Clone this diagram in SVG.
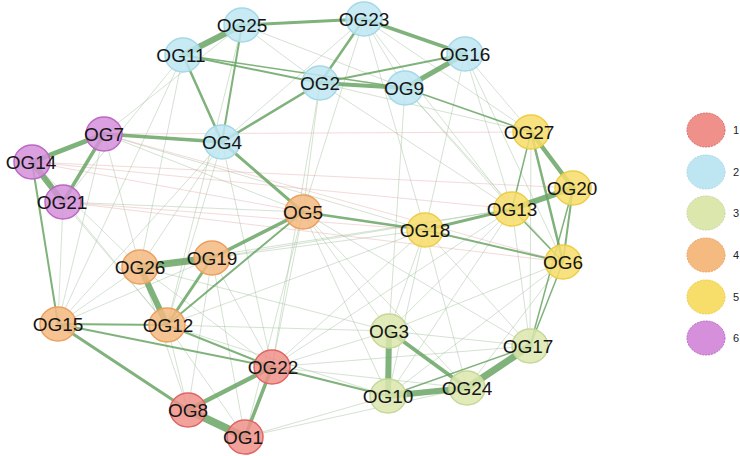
<svg xmlns="http://www.w3.org/2000/svg" width="740" height="456" viewBox="0 0 740 456">
<style>
.f{stroke:#9fbf9b;stroke-width:0.8;opacity:0.55}
.p{stroke:#e4a4a4;stroke-width:0.8;opacity:0.5}
.e{stroke:#6aa565;opacity:0.85;stroke-linecap:round}
.n ellipse{stroke-width:1.5;fill-opacity:0.85}
.g1 ellipse{fill:#f0908a;stroke:#de6666}
.g2 ellipse{fill:#bde6f2;stroke:#a6d8e8}
.g3 ellipse{fill:#dce7ae;stroke:#c6d898}
.g4 ellipse{fill:#f4ba80;stroke:#eba060}
.g5 ellipse{fill:#f7dd6a;stroke:#eecd48}
.g6 ellipse{fill:#d58fdb;stroke:#bb68c4}
.n text{font-family:"Liberation Sans",Arial,sans-serif;font-size:19px;fill:#151515;text-anchor:middle}
.lg ellipse{stroke-width:1;stroke-dasharray:2 1}
.lg text{font-family:"Liberation Sans",Arial,sans-serif;font-size:11px;fill:#222}
</style>
<rect width="740" height="456" fill="#ffffff"/>
<g id="connectors">
<g id="faint">
<line class="f" x1="183" y1="55" x2="63" y2="202"/>
<line class="f" x1="183" y1="55" x2="58" y2="324"/>
<line class="f" x1="183" y1="55" x2="140" y2="267"/>
<line class="f" x1="242" y1="25" x2="167" y2="325"/>
<line class="f" x1="242" y1="25" x2="104" y2="134"/>
<line class="f" x1="242" y1="25" x2="405" y2="88"/>
<line class="f" x1="242" y1="25" x2="320" y2="83"/>
<line class="f" x1="364" y1="19" x2="405" y2="88"/>
<line class="f" x1="364" y1="19" x2="531" y2="132"/>
<line class="f" x1="364" y1="19" x2="512" y2="209"/>
<line class="f" x1="364" y1="19" x2="303" y2="212"/>
<line class="f" x1="364" y1="19" x2="425" y2="230"/>
<line class="f" x1="364" y1="19" x2="222" y2="142"/>
<line class="f" x1="320" y1="83" x2="303" y2="212"/>
<line class="f" x1="320" y1="83" x2="272" y2="367"/>
<line class="f" x1="320" y1="83" x2="531" y2="132"/>
<line class="f" x1="320" y1="83" x2="512" y2="209"/>
<line class="f" x1="405" y1="88" x2="512" y2="209"/>
<line class="f" x1="405" y1="88" x2="563" y2="262"/>
<line class="f" x1="405" y1="88" x2="389" y2="331"/>
<line class="f" x1="465" y1="54" x2="531" y2="132"/>
<line class="f" x1="465" y1="54" x2="512" y2="209"/>
<line class="f" x1="465" y1="54" x2="563" y2="262"/>
<line class="f" x1="465" y1="54" x2="425" y2="230"/>
<line class="f" x1="222" y1="142" x2="167" y2="325"/>
<line class="f" x1="222" y1="142" x2="58" y2="324"/>
<line class="f" x1="222" y1="142" x2="140" y2="267"/>
<line class="f" x1="222" y1="142" x2="272" y2="367"/>
<line class="f" x1="104" y1="134" x2="140" y2="267"/>
<line class="f" x1="104" y1="134" x2="58" y2="324"/>
<line class="f" x1="104" y1="134" x2="303" y2="212"/>
<line class="f" x1="104" y1="134" x2="425" y2="230"/>
<line class="f" x1="32" y1="162" x2="140" y2="267"/>
<line class="f" x1="32" y1="162" x2="167" y2="325"/>
<line class="f" x1="63" y1="202" x2="58" y2="324"/>
<line class="f" x1="63" y1="202" x2="167" y2="325"/>
<line class="f" x1="63" y1="202" x2="303" y2="212"/>
<line class="f" x1="303" y1="212" x2="272" y2="367"/>
<line class="f" x1="303" y1="212" x2="389" y2="331"/>
<line class="f" x1="303" y1="212" x2="467" y2="388"/>
<line class="f" x1="303" y1="212" x2="388" y2="396"/>
<line class="f" x1="303" y1="212" x2="245" y2="437"/>
<line class="f" x1="303" y1="212" x2="530" y2="346"/>
<line class="f" x1="425" y1="230" x2="467" y2="388"/>
<line class="f" x1="425" y1="230" x2="388" y2="396"/>
<line class="f" x1="425" y1="230" x2="272" y2="367"/>
<line class="f" x1="425" y1="230" x2="389" y2="331"/>
<line class="f" x1="425" y1="230" x2="530" y2="346"/>
<line class="f" x1="512" y1="209" x2="530" y2="346"/>
<line class="f" x1="512" y1="209" x2="389" y2="331"/>
<line class="f" x1="512" y1="209" x2="388" y2="396"/>
<line class="f" x1="512" y1="209" x2="272" y2="367"/>
<line class="f" x1="531" y1="132" x2="530" y2="346"/>
<line class="f" x1="563" y1="262" x2="467" y2="388"/>
<line class="f" x1="563" y1="262" x2="389" y2="331"/>
<line class="f" x1="563" y1="262" x2="388" y2="396"/>
<line class="f" x1="530" y1="346" x2="389" y2="331"/>
<line class="f" x1="530" y1="346" x2="272" y2="367"/>
<line class="f" x1="389" y1="331" x2="272" y2="367"/>
<line class="f" x1="389" y1="331" x2="167" y2="325"/>
<line class="f" x1="389" y1="331" x2="140" y2="267"/>
<line class="f" x1="388" y1="396" x2="245" y2="437"/>
<line class="f" x1="388" y1="396" x2="167" y2="325"/>
<line class="f" x1="467" y1="388" x2="245" y2="437"/>
<line class="f" x1="467" y1="388" x2="272" y2="367"/>
<line class="f" x1="272" y1="367" x2="140" y2="267"/>
<line class="f" x1="272" y1="367" x2="212" y2="258"/>
<line class="f" x1="188" y1="410" x2="167" y2="325"/>
<line class="f" x1="188" y1="410" x2="140" y2="267"/>
<line class="f" x1="188" y1="410" x2="212" y2="258"/>
<line class="f" x1="245" y1="437" x2="212" y2="258"/>
<line class="f" x1="245" y1="437" x2="167" y2="325"/>
<line class="f" x1="58" y1="324" x2="140" y2="267"/>
<line class="f" x1="58" y1="324" x2="212" y2="258"/>
<line class="f" x1="167" y1="325" x2="425" y2="230"/>
<line class="f" x1="212" y1="258" x2="425" y2="230"/>
<line class="f" x1="140" y1="267" x2="512" y2="209"/>
<line class="f" x1="212" y1="258" x2="512" y2="209"/>
<line class="p" x1="32" y1="162" x2="573" y2="188"/>
<line class="p" x1="32" y1="162" x2="512" y2="209"/>
<line class="p" x1="63" y1="202" x2="425" y2="230"/>
<line class="p" x1="104" y1="134" x2="531" y2="132"/>
<line class="p" x1="104" y1="134" x2="563" y2="262"/>
<line class="p" x1="63" y1="202" x2="563" y2="262"/>
<line class="p" x1="32" y1="162" x2="303" y2="212"/>
</g>
<g id="strong">
<line class="e" stroke-width="3" x1="242" y1="25" x2="364" y2="19"/>
<line class="e" stroke-width="3.5" x1="364" y1="19" x2="465" y2="54"/>
<line class="e" stroke-width="2.5" x1="364" y1="19" x2="320" y2="83"/>
<line class="e" stroke-width="2" x1="183" y1="55" x2="320" y2="83"/>
<line class="e" stroke-width="1.5" x1="183" y1="55" x2="405" y2="88"/>
<line class="e" stroke-width="4" x1="320" y1="83" x2="405" y2="88"/>
<line class="e" stroke-width="5" x1="405" y1="88" x2="465" y2="54"/>
<line class="e" stroke-width="1.8" x1="320" y1="83" x2="465" y2="54"/>
<line class="e" stroke-width="2.5" x1="183" y1="55" x2="222" y2="142"/>
<line class="e" stroke-width="2" x1="242" y1="25" x2="222" y2="142"/>
<line class="e" stroke-width="2.5" x1="320" y1="83" x2="222" y2="142"/>
<line class="e" stroke-width="3.5" x1="104" y1="134" x2="222" y2="142"/>
<line class="e" stroke-width="3" x1="222" y1="142" x2="303" y2="212"/>
<line class="e" stroke-width="6" x1="242" y1="25" x2="183" y2="55"/>
<line class="e" stroke-width="5" x1="104" y1="134" x2="32" y2="162"/>
<line class="e" stroke-width="6" x1="32" y1="162" x2="63" y2="202"/>
<line class="e" stroke-width="3.5" x1="104" y1="134" x2="63" y2="202"/>
<line class="e" stroke-width="2" x1="32" y1="162" x2="58" y2="324"/>
<line class="e" stroke-width="2.5" x1="303" y1="212" x2="425" y2="230"/>
<line class="e" stroke-width="3" x1="425" y1="230" x2="512" y2="209"/>
<line class="e" stroke-width="6" x1="512" y1="209" x2="573" y2="188"/>
<line class="e" stroke-width="4.5" x1="531" y1="132" x2="573" y2="188"/>
<line class="e" stroke-width="1.5" x1="531" y1="132" x2="512" y2="209"/>
<line class="e" stroke-width="2.5" x1="531" y1="132" x2="563" y2="262"/>
<line class="e" stroke-width="2" x1="573" y1="188" x2="563" y2="262"/>
<line class="e" stroke-width="1.5" x1="512" y1="209" x2="563" y2="262"/>
<line class="e" stroke-width="2" x1="425" y1="230" x2="563" y2="262"/>
<line class="e" stroke-width="1.5" x1="563" y1="262" x2="530" y2="346"/>
<line class="e" stroke-width="1.5" x1="573" y1="188" x2="530" y2="346"/>
<line class="e" stroke-width="1.5" x1="405" y1="88" x2="531" y2="132"/>
<line class="e" stroke-width="7" x1="530" y1="346" x2="467" y2="388"/>
<line class="e" stroke-width="6" x1="467" y1="388" x2="388" y2="396"/>
<line class="e" stroke-width="6" x1="389" y1="331" x2="388" y2="396"/>
<line class="e" stroke-width="4" x1="389" y1="331" x2="467" y2="388"/>
<line class="e" stroke-width="1.5" x1="388" y1="396" x2="530" y2="346"/>
<line class="e" stroke-width="7" x1="140" y1="267" x2="212" y2="258"/>
<line class="e" stroke-width="6" x1="140" y1="267" x2="167" y2="325"/>
<line class="e" stroke-width="3" x1="212" y1="258" x2="167" y2="325"/>
<line class="e" stroke-width="3.5" x1="212" y1="258" x2="303" y2="212"/>
<line class="e" stroke-width="2" x1="167" y1="325" x2="303" y2="212"/>
<line class="e" stroke-width="2" x1="58" y1="324" x2="167" y2="325"/>
<line class="e" stroke-width="2" x1="58" y1="324" x2="272" y2="367"/>
<line class="e" stroke-width="3" x1="58" y1="324" x2="188" y2="410"/>
<line class="e" stroke-width="2" x1="167" y1="325" x2="272" y2="367"/>
<line class="e" stroke-width="4.5" x1="272" y1="367" x2="188" y2="410"/>
<line class="e" stroke-width="8" x1="188" y1="410" x2="245" y2="437"/>
<line class="e" stroke-width="3.5" x1="272" y1="367" x2="245" y2="437"/>
<line class="e" stroke-width="2" x1="272" y1="367" x2="388" y2="396"/>
</g>
</g>
<g id="nodes">
<g id="OG25" class="n g2"><ellipse cx="242" cy="25" rx="18" ry="17"/><text x="242" y="32">OG25</text></g>
<g id="OG23" class="n g2"><ellipse cx="364" cy="19" rx="18" ry="17"/><text x="364" y="26">OG23</text></g>
<g id="OG11" class="n g2"><ellipse cx="183" cy="55" rx="18" ry="17"/><text x="181" y="62">OG11</text></g>
<g id="OG16" class="n g2"><ellipse cx="465" cy="54" rx="18" ry="17"/><text x="465" y="61">OG16</text></g>
<g id="OG2" class="n g2"><ellipse cx="320" cy="83" rx="18" ry="17"/><text x="320" y="90">OG2</text></g>
<g id="OG9" class="n g2"><ellipse cx="405" cy="88" rx="18" ry="17"/><text x="404" y="95">OG9</text></g>
<g id="OG4" class="n g2"><ellipse cx="222" cy="142" rx="18" ry="17"/><text x="222" y="149">OG4</text></g>
<g id="OG7" class="n g6"><ellipse cx="104" cy="134" rx="18" ry="17"/><text x="104" y="141">OG7</text></g>
<g id="OG14" class="n g6"><ellipse cx="32" cy="162" rx="18" ry="17"/><text x="31" y="169">OG14</text></g>
<g id="OG21" class="n g6"><ellipse cx="63" cy="202" rx="18" ry="17"/><text x="62" y="209">OG21</text></g>
<g id="OG27" class="n g5"><ellipse cx="531" cy="132" rx="18" ry="17"/><text x="529" y="139">OG27</text></g>
<g id="OG20" class="n g5"><ellipse cx="573" cy="188" rx="18" ry="17"/><text x="572" y="195">OG20</text></g>
<g id="OG13" class="n g5"><ellipse cx="512" cy="209" rx="18" ry="17"/><text x="512" y="216">OG13</text></g>
<g id="OG18" class="n g5"><ellipse cx="425" cy="230" rx="18" ry="17"/><text x="425" y="237">OG18</text></g>
<g id="OG6" class="n g5"><ellipse cx="563" cy="262" rx="18" ry="17"/><text x="563" y="269">OG6</text></g>
<g id="OG5" class="n g4"><ellipse cx="303" cy="212" rx="18" ry="17"/><text x="303" y="219">OG5</text></g>
<g id="OG26" class="n g4"><ellipse cx="140" cy="267" rx="18" ry="17"/><text x="140" y="274">OG26</text></g>
<g id="OG19" class="n g4"><ellipse cx="212" cy="258" rx="18" ry="17"/><text x="212" y="265">OG19</text></g>
<g id="OG15" class="n g4"><ellipse cx="58" cy="324" rx="18" ry="17"/><text x="58" y="331">OG15</text></g>
<g id="OG12" class="n g4"><ellipse cx="167" cy="325" rx="18" ry="17"/><text x="168" y="332">OG12</text></g>
<g id="OG3" class="n g3"><ellipse cx="389" cy="331" rx="18" ry="17"/><text x="389" y="338">OG3</text></g>
<g id="OG17" class="n g3"><ellipse cx="530" cy="346" rx="18" ry="17"/><text x="528" y="353">OG17</text></g>
<g id="OG24" class="n g3"><ellipse cx="467" cy="388" rx="18" ry="17"/><text x="467" y="395">OG24</text></g>
<g id="OG10" class="n g3"><ellipse cx="388" cy="396" rx="18" ry="17"/><text x="388" y="403">OG10</text></g>
<g id="OG22" class="n g1"><ellipse cx="272" cy="367" rx="18" ry="17"/><text x="273" y="374">OG22</text></g>
<g id="OG8" class="n g1"><ellipse cx="188" cy="410" rx="18" ry="17"/><text x="188" y="417">OG8</text></g>
<g id="OG1" class="n g1"><ellipse cx="245" cy="437" rx="18" ry="17"/><text x="243" y="444">OG1</text></g>
</g>
<g id="legend" class="lg">
<g class="g1"><ellipse cx="706" cy="130" rx="19" ry="17"/><text x="733" y="134">1</text></g>
<g class="g2"><ellipse cx="706" cy="172" rx="19" ry="17"/><text x="733" y="176">2</text></g>
<g class="g3"><ellipse cx="706" cy="213" rx="19" ry="17"/><text x="733" y="217">3</text></g>
<g class="g4"><ellipse cx="706" cy="255" rx="19" ry="17"/><text x="733" y="259">4</text></g>
<g class="g5"><ellipse cx="706" cy="297" rx="19" ry="17"/><text x="733" y="301">5</text></g>
<g class="g6"><ellipse cx="706" cy="338" rx="19" ry="17"/><text x="733" y="342">6</text></g>
</g>
</svg>
